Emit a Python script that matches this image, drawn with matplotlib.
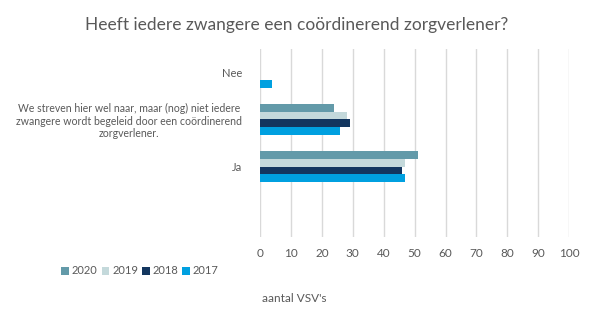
import matplotlib.pyplot as plt
import numpy as np

# categories, top to bottom (last slot is empty in the original)
categories = ["Nee",
              "We streven hier wel naar, maar (nog) niet iedere\nzwangere wordt begeleid door een coördinerend\nzorgverlener.",
              "Ja",
              ""]
years = ["2020", "2019", "2018", "2017"]
v2020 = [0, 24, 51, 0]
v2019 = [0, 28, 47, 0]
v2018 = [0, 29, 46, 0]
v2017 = [4, 26, 47, 0]
colors = ["#639aa9", "#c4d9db", "#13365f", "#00a0e0"]

plt.rcParams['font.family'] = ['Lato', 'DejaVu Sans']
grey = "#595959"

fig = plt.figure(figsize=(5.93, 3.27), dpi=100)
ax = fig.add_axes([0.4384, 0.2752, 0.5216, 0.5750])

n = len(categories)
pos = np.arange(n)[::-1]  # first category at top
h = 0.17
series = [v2020, v2019, v2018, v2017]
for i, (vals, c, y) in enumerate(zip(series, colors, years)):
    offs = (1.5 - i) * h
    ax.barh(pos + offs, vals, height=h, color=c, label=y, zorder=3)

ax.set_xlim(0, 100)
ax.set_ylim(-0.5, n - 0.5)
ax.set_xticks(np.arange(0, 101, 10))
ax.set_yticks(pos)
ax.set_yticklabels(categories, multialignment="center", linespacing=1.15)
ax.grid(axis="x", color="#d9d9d9", linewidth=1, zorder=0)
ax.tick_params(length=0, colors=grey, labelsize=8.5)
ax.tick_params(axis="y", pad=13, labelsize=8)
ax.tick_params(axis="x", pad=8)
ax.get_yticklabels()[1].set_fontsize(7.6)
for s in ax.spines.values():
    s.set_visible(False)

fig.text(0.5, 1 - 25 / 327, "Heeft iedere zwangere een coördinerend zorgverlener?",
         ha="center", va="center", fontsize=12.5, color=grey)
fig.text(0.497, 1 - 299 / 327, "aantal VSV's", ha="center", va="center",
         fontsize=8.5, color=grey)

fig.legend(loc="center", bbox_to_anchor=(140 / 593, 1 - 271 / 327), ncol=4,
           frameon=False, fontsize=8, handlelength=0.7, handleheight=0.7,
           handletextpad=0.25, columnspacing=0.35, labelcolor=grey)

fig.savefig("out.png", dpi=100)
